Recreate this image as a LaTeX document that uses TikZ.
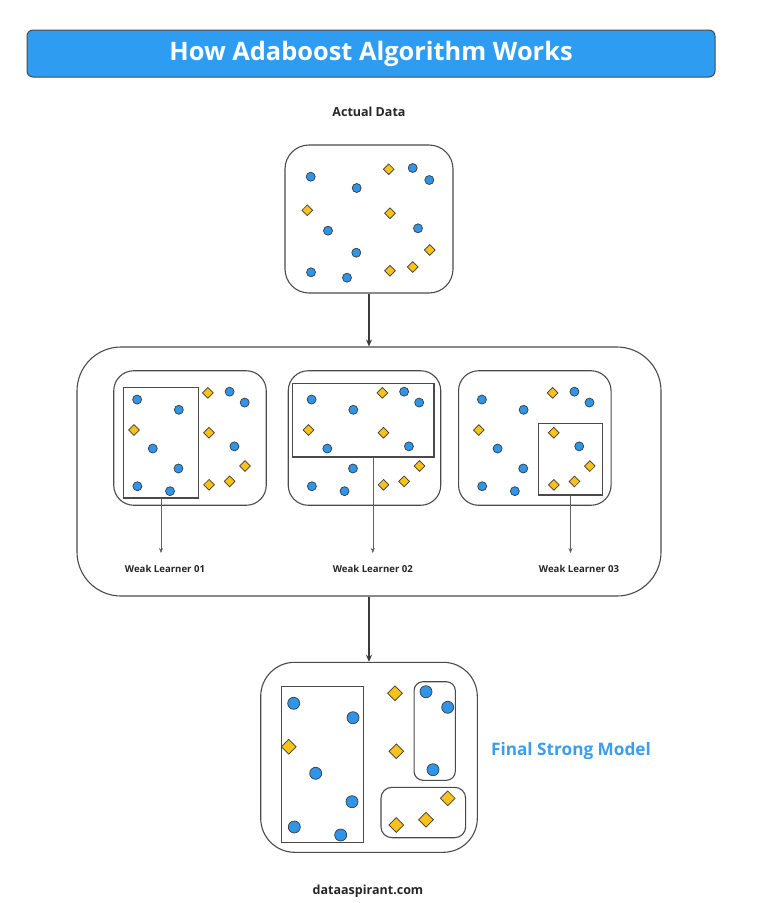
\documentclass[tikz,border=0pt]{standalone}
\usepackage{fontspec}
\setmainfont{Open Sans}
\usetikzlibrary{shapes.geometric,arrows.meta}
\definecolor{titleblue}{HTML}{2E9CF0}
\definecolor{dotblue}{HTML}{2F95E8}
\definecolor{dotyellow}{HTML}{F8C21A}
\definecolor{edge}{HTML}{3A3A3A}
\definecolor{boxline}{HTML}{4A4A4A}
\definecolor{labelblue}{HTML}{3A9EEC}
\tikzset{
  bdot/.style={circle,draw=edge,fill=dotblue,line width=0.7pt,minimum size=9pt,inner sep=0pt},
  ydia/.style={diamond,draw=edge,fill=dotyellow,line width=0.7pt,minimum width=11pt,minimum height=11pt,inner sep=0pt},
  bdotL/.style={bdot,minimum size=12pt},
  ydiaL/.style={ydia,minimum width=15pt,minimum height=15pt},
  roundbox/.style={draw=boxline,line width=1.1pt,rounded corners=#1,inner sep=0pt,fill=none},
  selbox/.style={draw=boxline,line width=1.4pt,inner sep=0pt},
  mainarrow/.style={draw=edge,line width=1.1pt,-{Stealth[length=7pt,width=6pt]}},
  thinarrow/.style={draw=edge!80,line width=0.6pt,-{Stealth[length=5pt,width=4pt]}},
  lbl/.style={font=\fontsize{9.6}{11}\selectfont\bfseries,text=black!85,inner sep=2pt},
}
\newcommand\dataset[3]{%
  \begin{scope}[shift={#2},scale=#3]
    \foreach \p [count=\i] in {(25.7,31.7),(71.7,43),(127.7,23),(144.3,35),(43,85.7),(133,83.3),(71.3,107.7),(26,127.3),(62,132.7)}
      \node[bdot] (#1c\i) at \p {};
    \foreach \p [count=\i] in {(103.7,24.3),(22.3,65.3),(105,68.3),(144.7,105),(105,125.7),(127.7,122)}
      \node[ydia] (#1d\i) at \p {};
  \end{scope}}
\begin{document}
\begin{tikzpicture}[x=1pt,y=-1pt]
\useasboundingbox (0,0) rectangle (768,903);
\fill[white] (0,0) rectangle (768,903);
% title
\node[draw=boxline,line width=1pt,fill=titleblue,rounded corners=6pt,minimum width=688pt,minimum height=47pt,inner sep=0pt,
  text=white,font=\fontsize{25.4}{29}\selectfont\bfseries] (title) at (371,53.5) {How Adaboost Algorithm Works};
\node[font=\fontsize{12.5}{15}\selectfont\bfseries,text=black!85] (actual) at (369,112) {Actual Data};
% top box
\node[roundbox=24pt,minimum width=168pt,minimum height=148pt] (topbox) at (369,219) {};
\dataset{t}{(285,145)}{1}
% big box
\node[roundbox=44pt,minimum width=584pt,minimum height=249pt] (bigbox) at (369,471.5) {};
\node[roundbox=20pt,minimum width=152.5pt,minimum height=134.5pt] (sb1) at (190,438) {};
\node[roundbox=20pt,minimum width=152.5pt,minimum height=134.5pt] (sb2) at (364.5,438) {};
\node[roundbox=20pt,minimum width=152.5pt,minimum height=134.5pt] (sb3) at (534.8,438) {};
\dataset{a}{(113.8,370.8)}{0.907}
\dataset{b}{(288.3,370.8)}{0.907}
\dataset{e}{(458.6,370.8)}{0.907}
\node[selbox,minimum width=75.4pt,minimum height=110.3pt] (r1) at (161,442.8) {};
\node[selbox,minimum width=141.7pt,minimum height=73.7pt] (r2) at (363.2,420.2) {};
\node[selbox,minimum width=63.6pt,minimum height=71.7pt] (r3) at (570.5,459.2) {};
\node[lbl] (wl1) at (165,569) {Weak Learner 01};
\node[lbl] (wl2) at (372.8,568.5) {Weak Learner 02};
\node[lbl] (wl3) at (579,568.5) {Weak Learner 03};
\draw[thinarrow] (r1.south) -- (r1.south |- 0,553);
\draw[thinarrow] (r2.south -| wl2.north) -- (wl2.north |- 0,553);
\draw[thinarrow] (r3.south) -- (r3.south |- 0,553);
% final box
\node[roundbox=34pt,minimum width=216.6pt,minimum height=190pt] (finalbox) at (369,757.3) {};
\node[selbox,minimum width=81.6pt,minimum height=156pt] (fr1) at (322.5,764.7) {};
\node[roundbox=9pt,minimum width=41.3pt,minimum height=98.6pt] (fr2) at (434.7,731) {};
\node[roundbox=11pt,minimum width=84.7pt,minimum height=50.4pt] (fr3) at (423.3,812.5) {};
\foreach \p [count=\i] in {(293.7,703.3),(353,717.7),(315.7,773.3),(352,801.7),(294.3,827),(340.7,835),(426,691.7),(447.7,707.3),(433,769.7)}
  \node[bdotL] (fc\i) at \p {};
\foreach \p [count=\i] in {(288.7,746.7),(395,693.3),(396.3,751.3),(447.7,798.3),(396.3,825),(426,819.7)}
  \node[ydiaL] (fd\i) at \p {};
\node[font=\fontsize{17.2}{20}\selectfont\bfseries,text=labelblue] (fsm) at (571,751) {Final Strong Model};
\node[font=\fontsize{12.5}{15}\selectfont\bfseries,text=black!85] (site) at (368,891) {dataaspirant.com};
% main arrows
\draw[mainarrow] (topbox.south) -- (bigbox.north);
\draw[mainarrow] (bigbox.south) -- (finalbox.north);
\end{tikzpicture}
\end{document}
